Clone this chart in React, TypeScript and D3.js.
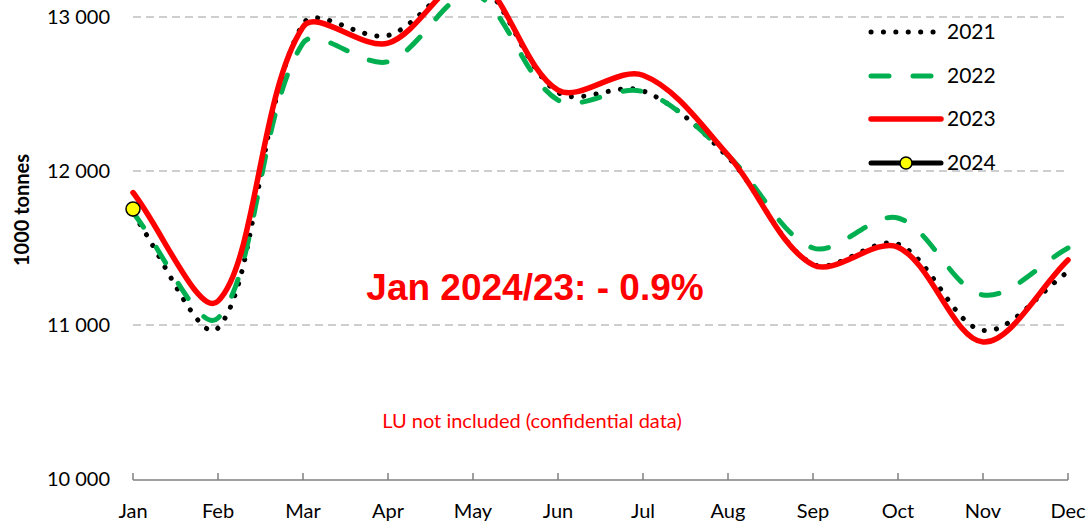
import * as d3 from 'd3'

const W = 1089, H = 527

const months = ['Jan', 'Feb', 'Mar', 'Apr', 'May', 'Jun', 'Jul', 'Aug', 'Sep', 'Oct', 'Nov', 'Dec']
const yTicks = [10000, 11000, 12000, 13000]

const v2021 = [11720, 10980, 12955, 12880, 13240, 12510, 12520, 12090, 11395, 11525, 10965, 11345]
const v2022 = [11730, 11045, 12830, 12710, 13150, 12460, 12515, 12100, 11500, 11695, 11195, 11500]
const v2023 = [11860, 11155, 12935, 12830, 13260, 12525, 12622, 12104, 11390, 11505, 10890, 11422]
const v2024 = [11753]

const legend = [
  { label: '2021', color: '#000', width: 5, dash: '0.1 12.3', marker: false },
  { label: '2022', color: '#00b050', width: 5, dash: '18 24', marker: false },
  { label: '2023', color: '#ff0000', width: 5.5, dash: null, marker: false },
  { label: '2024', color: '#000', width: 5, dash: null, marker: true },
]

const FONT = 'Lato, "Open Sans", sans-serif'

// spreadsheet-style smoothing: tangents split by neighbouring segment lengths
function curveSheet(context: any) {
  let pts: [number, number][] = []
  return {
    areaStart() {},
    areaEnd() {},
    lineStart() { pts = [] },
    point(px: number, py: number) { pts.push([px, py]) },
    lineEnd() {
      if (!pts.length) return
      context.moveTo(pts[0][0], pts[0][1])
      const n = pts.length
      const ctrl = pts.map((p, i) => {
        const p0 = pts[Math.max(0, i - 1)], p2 = pts[Math.min(n - 1, i + 1)]
        const d01 = Math.hypot(p[0] - p0[0], p[1] - p0[1])
        const d12 = Math.hypot(p2[0] - p[0], p2[1] - p[1])
        const s = d01 + d12 || 1
        const tx = (p2[0] - p0[0]) / 3, ty = (p2[1] - p0[1]) / 3
        return {
          inn: [p[0] - tx * d01 / s, p[1] - ty * d01 / s],
          out: [p[0] + tx * d12 / s, p[1] + ty * d12 / s],
        }
      })
      for (let i = 1; i < n; i++) {
        const a = ctrl[i - 1].out, b = ctrl[i].inn
        context.bezierCurveTo(a[0], a[1], b[0], b[1], pts[i][0], pts[i][1])
      }
    },
  }
}

export default function App() {
  const x = d3.scalePoint<string>().domain(months).range([133, 1068])
  const y = d3.scaleLinear().domain([10000, 13000]).range([479, 17])

  const line = d3.line<number>()
    .x((_, i) => x(months[i])!)
    .y((d) => y(d))
    .curve(curveSheet as any)

  const series = [
    { data: v2021, ...legend[0] },
    { data: v2022, ...legend[1] },
    { data: v2023, ...legend[2] },
  ]

  const legendRows = [32, 76, 119, 163]

  return (
    <svg width={W} height={H} style={{ position: 'absolute', left: 0, top: 0, background: '#fff' }}>
      {/* gridlines */}
      {yTicks.filter((t) => t > 10000).map((t) => (
        <line key={t} x1={133} x2={1066} y1={y(t)} y2={y(t)} stroke="#bfbfbf" strokeWidth={1.5} strokeDasharray="8 5" />
      ))}
      {/* y tick labels */}
      {yTicks.map((t) => (
        <text key={t} x={110} y={y(t) + 7} textAnchor="end" fontFamily={FONT} fontSize={20} fill="#000">
          {d3.format(',')(t).replace(',', ' ')}
        </text>
      ))}
      {/* x axis */}
      <line x1={133} x2={1068} y1={480} y2={480} stroke="#808080" strokeWidth={1.5} />
      {months.map((m) => (
        <g key={m}>
          <line x1={x(m)} x2={x(m)} y1={473} y2={480} stroke="#808080" strokeWidth={1.5} />
          <text x={x(m)} y={518} textAnchor="middle" fontFamily={FONT} fontSize={20} fill="#000">{m}</text>
        </g>
      ))}
      {/* y axis title */}
      <text transform="translate(29,210) rotate(-90)" textAnchor="middle" fontFamily={FONT} fontWeight="bold" fontSize={20} fill="#000">
        1000 tonnes
      </text>
      {/* series */}
      {series.map((s) => (
        <path key={s.label} d={line(s.data) ?? ''} fill="none" stroke={s.color} strokeWidth={s.width}
          strokeDasharray={s.dash ?? undefined} strokeLinecap="round" strokeLinejoin="round" />
      ))}
      {v2024.map((v, i) => (
        <circle key={i} cx={x(months[i])} cy={y(v)} r={7} fill="#ffff00" stroke="#000" strokeWidth={1.5} />
      ))}
      {/* annotations */}
      <text x={535} y={300} textAnchor="middle" fontFamily='"Liberation Sans", Arial, sans-serif' fontWeight="bold" fontSize={37} fill="#ff0000">
        Jan 2024/23: - 0.9%
      </text>
      <text x={532} y={428} textAnchor="middle" fontFamily={FONT} fontSize={20} fill="#ff0000">
        LU not included (confidential data)
      </text>
      {/* legend */}
      {legend.map((l, i) => (
        <g key={l.label}>
          <line x1={871} x2={941} y1={legendRows[i]} y2={legendRows[i]} stroke={l.color} strokeWidth={l.width}
            strokeDasharray={l.dash ?? undefined} strokeLinecap="round" />
          {l.marker && <circle cx={906} cy={legendRows[i]} r={6} fill="#ffff00" stroke="#000" strokeWidth={1.5} />}
          <text x={947} y={legendRows[i] + 7} fontFamily={FONT} fontSize={21} fill="#000">{l.label}</text>
        </g>
      ))}
    </svg>
  )
}
